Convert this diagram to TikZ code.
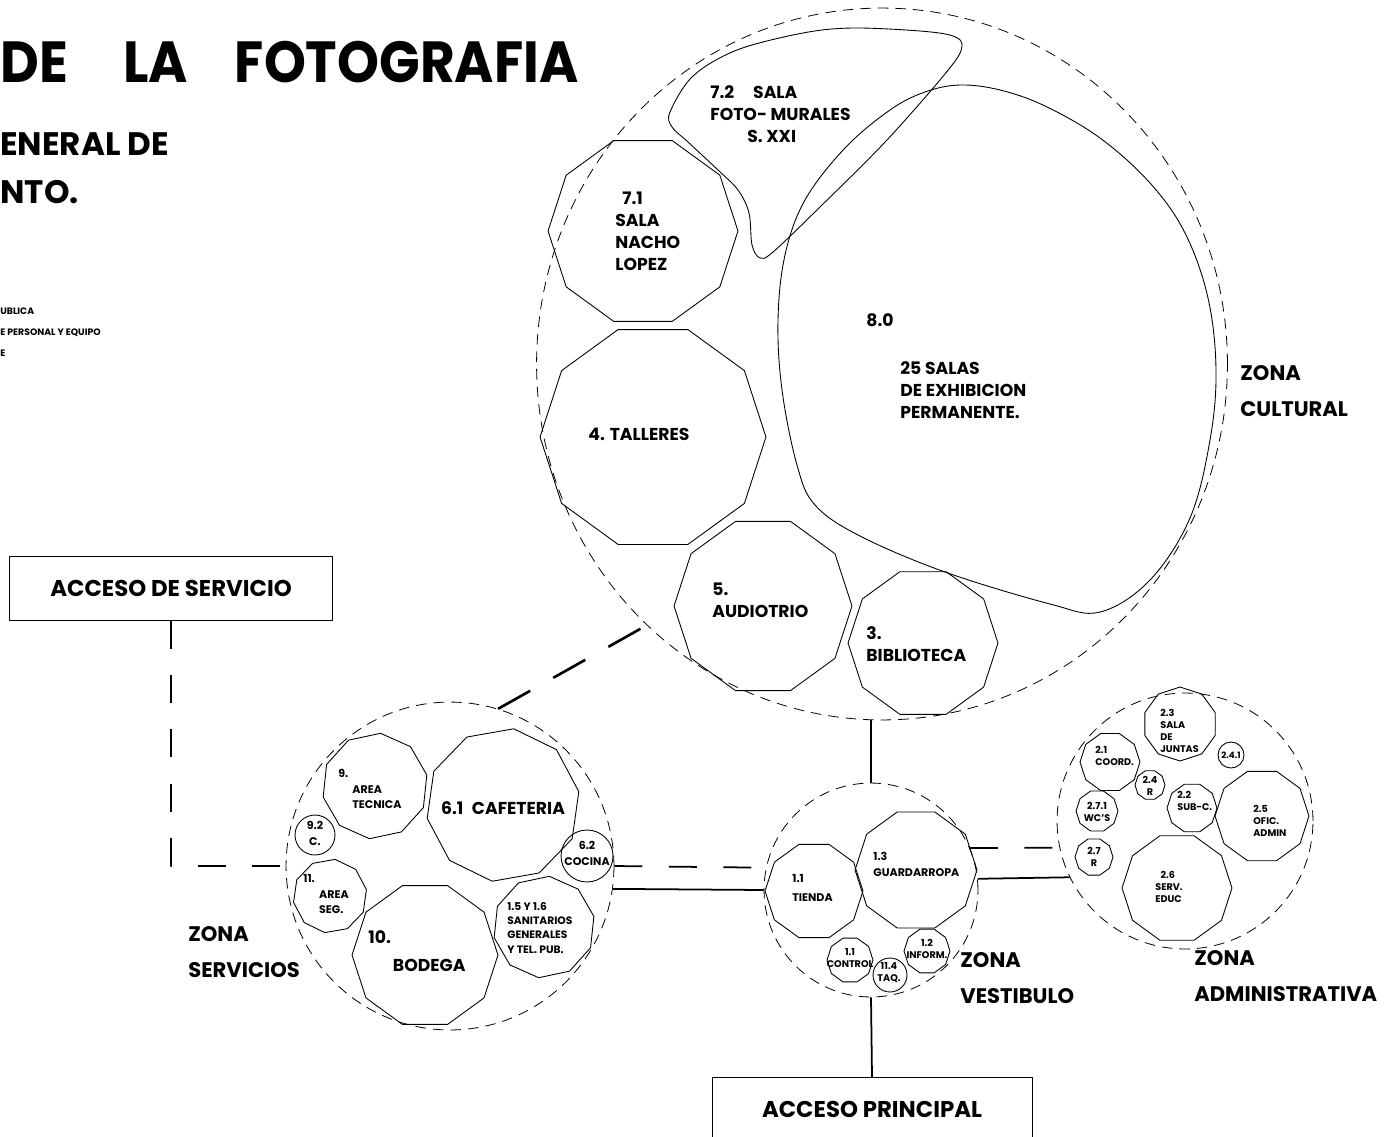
\documentclass[tikz,border=0pt]{standalone}
\usepackage{fontspec}
\setmainfont{Poppins}
\usetikzlibrary{shapes.geometric}

\newcommand{\titlefont}{\fontsize{33}{40}\selectfont\bfseries}
\newcommand{\subfont}{\fontsize{18.5}{27}\selectfont\bfseries}
\newcommand{\legfont}{\fontsize{5.3}{12}\selectfont\bfseries}
\newcommand{\zonefont}{\fontsize{12}{20.5}\selectfont\bfseries}
\newcommand{\accfont}{\fontsize{13}{16}\selectfont\bfseries}
\newcommand{\roomfont}{\fontsize{9.8}{12.5}\selectfont\bfseries}
\newcommand{\smallfont}{\fontsize{6.3}{9}\selectfont\bfseries}
\newcommand{\tinyfont}{\fontsize{5.5}{6.8}\selectfont\bfseries}

\tikzset{
  zone/.style={
    circle,
    draw=black,
    line width=0.45pt,
    dash pattern=on 6pt off 4pt,
    inner sep=0pt,
    minimum size=#1*0.04cm
    },
  room/.style={
    regular polygon,
    regular polygon sides=10,
    draw=black,
    line width=0.5pt,
    inner sep=0pt,
    minimum size=#1*0.04cm
    },
  cell/.style={
    circle,
    draw=black,
    line width=0.5pt,
    inner sep=0pt,
    minimum size=#1*0.04cm
    },
  wall/.style={line width=0.5pt, draw=black},
  lbl/.style={inner sep=0pt, align=left, font=\roomfont},
  smalllbl/.style={inner sep=0pt, align=left, font=\smallfont},
  tinylbl/.style={inner sep=0pt, align=left, font=\tinyfont},
  zonelbl/.style={inner sep=0pt, align=left, font=\zonefont},
  access/.style={
    rectangle,
    draw=black,
    line width=0.5pt,
    minimum width=6.45cm,
    minimum height=1.28cm,
    align=center,
    font=\accfont
    },
  pub/.style={line width=1pt},
  svc/.style={line width=1pt, dash pattern=on 16pt off 15pt},
  svcthick/.style={line width=1.5pt, dash pattern=on 21pt off 15pt},
}

\begin{document}
\begin{tikzpicture}[
            x = 0.02cm, % one pixel of the plan
            y = -0.02cm, % rows run downwards
            line join = round
        ]
  \useasboundingbox (0,0) rectangle (1385,1136);

  % headings
  \node[anchor=west, inner sep=0pt, font=\titlefont] (titulo) at (0,62)
    {\scalebox{0.92}[1]{DE\hspace{1.2cm}LA\hspace{1.02cm}FOTOGRAFIA}};
  \node[anchor=west, inner sep=0pt, font=\subfont, align=left] (subtitulo) at (0,168) {ENERAL DE\\NTO.};
  \node[anchor=west, inner sep=0pt, font=\legfont, align=left] (leyenda) at (0,332) {UBLICA\\E PERSONAL Y EQUIPO\\E};

  % zones
  \node[zone=350, ellipse, minimum width=13.82cm, minimum height=14.24cm] (cult) at (882,364) {};
  \node[zone=164] (serv) at (450,866) {};
  \node[zone=107] (vest) at (871,890) {};
  \node[zone=128] (admin) at (1185,821) {};

  % zona cultural
  \draw[wall] plot[smooth cycle, tension=0.55] coordinates {(670,112) (693,76) (737,50) (803,33) (853,28)
    (920,31) (953,36) (962,46) (949,69) (887,140) (820,207) (773,252) (760,258) (752,245) (749,213)
    (738,190) (718,170) (688,142) (672,127)};
  \draw[wall] plot[smooth cycle, tension=0.6] coordinates {(925,92) (960,85) (1000,90) (1045,106)
    (1100,138) (1150,183) (1185,233) (1208,298) (1216,370) (1210,440) (1190,518) (1150,580)
    (1100,612) (1050,604) (945,572) (860,536) (815,505) (797,465) (782,390) (778,320) (785,255)
    (805,200) (845,148) (890,110)};
  \node[room=95] (r71) at (643,231) {};
  \node[room=113] (r4) at (653,437) {};
  \node[room=89] (r5) at (763,606) {};
  \node[room=75] (r3) at (923,643) {};

  \node[lbl, anchor=west] (l72) at (710,114) {7.2\hspace{1.1em}SALA\\FOTO- MURALES\\\hspace*{0.74cm}S. XXI};
  \node[lbl, anchor=west] (l71) at (615,231) {\hspace*{4pt}7.1\\SALA\\NACHO\\LOPEZ};
  \node[lbl] (l4) at (639,434) {4. TALLERES};
  \node[lbl, anchor=west] (l5) at (712,600) {5.\\AUDIOTRIO};
  \node[lbl, anchor=west] (l3) at (866,644) {3.\\BIBLIOTECA};
  \node[lbl] (l80) at (880,320) {8.0};
  \node[lbl, anchor=west] (l25) at (900,390) {25 SALAS\\DE EXHIBICION\\PERMANENTE.};

  % zona servicios
  \node[room=53, shape border rotate=12] (r9) at (375,786) {};
  \node[room=77, shape border rotate=10] (r61) at (503,805) {};
  \node[cell=20] (r92) at (315,835) {};
  \node[cell=26] (r62) at (587,856) {};
  \node[room=37, shape border rotate=10] (r11) at (330,896) {};
  \node[room=73] (r10) at (425,955) {};
  \node[room=51, shape border rotate=12] (r15) at (544,927) {};

  \node[smalllbl, anchor=west] (l9) at (338,789) {9.\\\hspace*{8pt}AREA\\\hspace*{8pt}TECNICA};
  \node[lbl] (l61) at (503,808) {6.1\hspace{0.5em}CAFETERIA};
  \node[smalllbl, align=center] (l92) at (315,833) {9.2\\C.};
  \node[smalllbl, align=center] (l62) at (587,853) {6.2\\COCINA};
  \node[smalllbl, anchor=west] (l11) at (303,894) {11.\\\hspace*{9pt}AREA\\\hspace*{9pt}SEG.};
  \node[lbl, anchor=west, font=\fontsize{9.8}{16}\selectfont\bfseries] (l10) at (368,951) {10.\\\hspace*{14pt}BODEGA};
  \node[smalllbl, anchor=west, font=\fontsize{6.1}{8}\selectfont\bfseries] (l15) at (507,928) {1.5 Y 1.6\\SANITARIOS\\GENERALES\\Y TEL. PUB.};

  % zona vestibulo
  \node[room=49] (r11t) at (814,891) {};
  \node[room=61] (r13) at (916,870) {};
  \node[room=23] (r11c) at (850,960) {};
  \node[cell=17] (r14) at (890,975) {};
  \node[room=23] (r12) at (927,951) {};

  \node[smalllbl, anchor=west, font=\fontsize{6.3}{11}\selectfont\bfseries] (l11t) at (792,888) {1.1\\TIENDA};
  \node[smalllbl, anchor=west] (l13) at (873,864) {1.3\\GUARDARROPA};
  \node[tinylbl, align=center] (l11c) at (850,958) {1.1\\CONTROL};
  \node[tinylbl, align=center] (l14) at (889,973) {11.4\\TAQ.};
  \node[tinylbl, align=center] (l12) at (927,949) {1.2\\INFORM.};

  % zona administrativa
  \node[room=37, shape border rotate=18] (r23) at (1180,724) {};
  \node[cell=13] (r241) at (1231,755) {};
  \node[room=30] (r21) at (1110,762) {};
  \node[room=15] (r24) at (1150,785) {};
  \node[room=25] (r22) at (1192,808) {};
  \node[room=47] (r25) at (1262,816) {};
  \node[room=21] (r271) at (1097,811) {};
  \node[room=19] (r27) at (1094,857) {};
  \node[room=55] (r26) at (1177,888) {};

  \node[tinylbl, anchor=west] (l23) at (1160,731) {2.3\\SALA\\DE\\JUNTAS};
  \node[tinylbl, font=\fontsize{5}{6}\selectfont\bfseries] (l241) at (1231,755) {2.4.1};
  \node[tinylbl, anchor=west] (l21) at (1095,756) {2.1\\COORD.};
  \node[tinylbl, align=center] (l24) at (1150,786) {2.4\\R};
  \node[tinylbl, anchor=west] (l22) at (1177,801) {2.2\\SUB-C.};
  \node[tinylbl, anchor=west] (l25a) at (1253,821) {2.5\\OFIC.\\ADMIN};
  \node[tinylbl, align=center] (l271) at (1097,812) {2.7.1\\WC'S};
  \node[tinylbl, align=center] (l27) at (1094,857) {2.7\\R};
  \node[tinylbl, anchor=west] (l26) at (1155,887) {\hspace*{3pt}2.6\\SERV.\\EDUC};

  % zone names
  \node[zonelbl, anchor=west] (zcult) at (1240,391) {ZONA\\CULTURAL};
  \node[zonelbl, anchor=west] (zserv) at (188,952) {ZONA\\SERVICIOS};
  \node[zonelbl, anchor=west] (zvest) at (960,978) {ZONA\\VESTIBULO};
  \node[zonelbl, anchor=west] (zadmin) at (1194,976) {ZONA\\ADMINISTRATIVA};

  % accesses
  \node[access] (accserv) at (171,588) {ACCESO DE SERVICIO};
  \node[access, anchor=north, minimum width=6.4cm] (accprin) at (872,1077) {ACCESO PRINCIPAL};

  % links
  \draw[svc] (accserv.south) |- (serv.west);
  \draw[svcthick] (serv.73) -- (cult.228);
  \draw[pub] (vest.north |- cult.south) -- (vest.north);
  \draw[svc] (serv.0) -- (vest.168);
  \draw[pub] (serv.-8) -- (vest.180);
  \draw[svc] (vest.23) -- (admin.192);
  \draw[pub] (vest.6) -- (admin.206);
  \draw[pub] (vest.south) -- (accprin.north);
\end{tikzpicture}
\end{document}
